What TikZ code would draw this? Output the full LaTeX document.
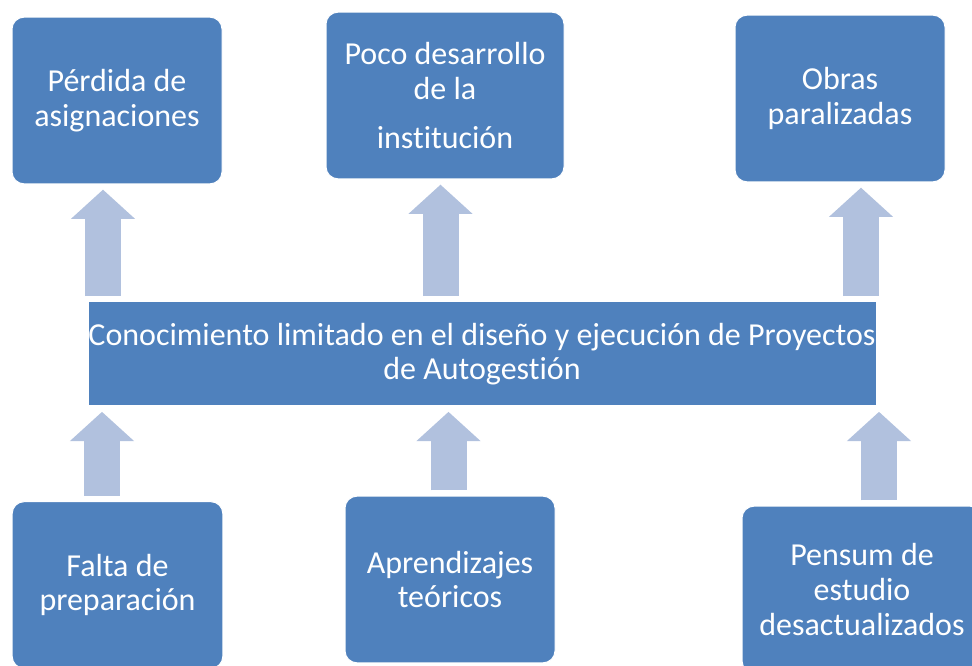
\documentclass[tikz,border=0pt]{standalone}
\usepackage{fontspec}
\setmainfont{Carlito}[Ligatures=NoCommon]
\usetikzlibrary{arrows.meta}
\definecolor{boxblue}{RGB}{79,129,189}
\definecolor{arrowblue}{RGB}{177,193,222}
\tikzset{
    card/.style={draw=white, line width=0.75pt, fill=boxblue, text=white,
        rounded corners=9pt, align=center, inner sep=0pt,
        font=\fontsize{24}{26}\selectfont},
    uparrow/.style={draw=arrowblue, line width=27pt,
        -{Triangle[width=47pt,length=22pt]}, shorten <=4pt, shorten >=4pt}
}

\begin{document}
\begin{tikzpicture}[x=0.75pt, y=0.75pt]
        \useasboundingbox (0,0) rectangle (972,666);
        % effects
        \node[card, minimum width=157.5pt, minimum height=125pt] (p1) at (117,565.5) {P\'erdida de\\asignaciones};
        \node[card, minimum width=178.5pt, minimum height=125pt] (p2) at (445,570.5) {Poco desarrollo\\de la\\[10.5pt]instituci\'on};
        \node[card, minimum width=157.5pt, minimum height=125pt] (p3) at (840,567.5) {Obras\\paralizadas};
        % problem
        \node[card, rounded corners=0pt, minimum width=591pt, minimum height=78pt] (mid) at (482,312)
            {Conocimiento limitado en el dise\~no y ejecuci\'on de Proyectos\\de Autogesti\'on};
        % causes
        \node[card, minimum width=158pt, minimum height=125pt] (c1) at (117.5,81) {Falta de\\preparaci\'on};
        \node[card, minimum width=157.5pt, minimum height=125pt] (c2) at (450,86.5) {Aprendizajes\\te\'oricos};
        \node[card, minimum width=180pt, minimum height=125pt] (c3) at (862,76.5) {Pensum de\\estudio\\desactualizados};

        \foreach \a/\b/\x in {mid/p1/103, mid/p2/440.5, mid/p3/861, c1/mid/102, c2/mid/448.5, c3/mid/879}
        {%
            \draw[uparrow] (\a.north -| \x,0) -- (\b.south -| \x,0);
        }
\end{tikzpicture}
\end{document}
